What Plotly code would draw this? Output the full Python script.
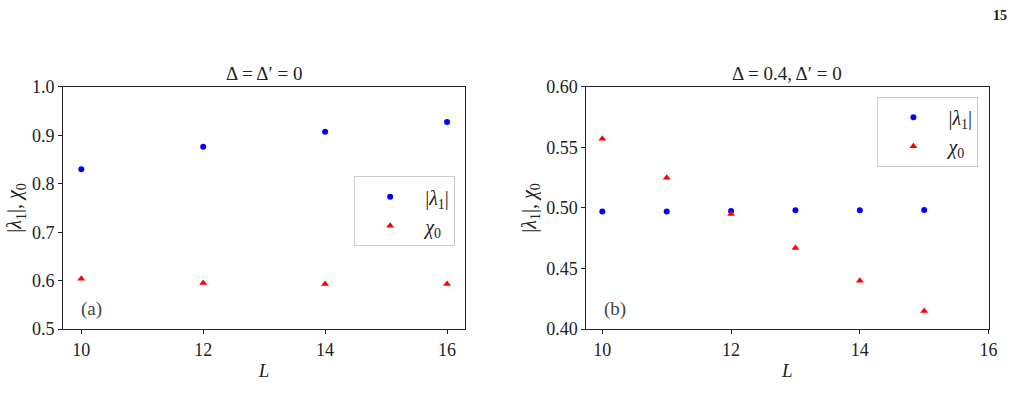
import plotly.graph_objects as go
from plotly.subplots import make_subplots

# Data
L_a = [10, 12, 14, 16]
lam_a = [0.830, 0.876, 0.907, 0.927]
chi_a = [0.604, 0.595, 0.593, 0.593]

L_b = [10, 11, 12, 13, 14, 15]
lam_b = [0.497, 0.497, 0.4975, 0.498, 0.498, 0.4984]
chi_b = [0.557, 0.525, 0.495, 0.467, 0.440, 0.415]

titles = ["Δ = Δ′ = 0", "Δ = 0.4, Δ′ = 0"]
panel_tags = ["(a)", "(b)"]

FONT = "Liberation Serif, serif"
TXT = "#222"
ylab = "|<i>λ</i><sub>1</sub>|, <i>χ</i><sub>0</sub>"
lam_name = "|<i>λ</i><sub>1</sub>|"
chi_name = "<i>χ</i><sub>0</sub>"

fig = make_subplots(rows=1, cols=2)

# panel (a)
fig.add_trace(go.Scatter(x=L_a, y=lam_a, mode="markers", name=lam_name,
                         marker=dict(color="blue", size=6, symbol="circle"),
                         legend="legend"), row=1, col=1)
fig.add_trace(go.Scatter(x=L_a, y=chi_a, mode="markers", name=chi_name,
                         marker=dict(color="red", size=7, symbol="triangle-up"),
                         legend="legend"), row=1, col=1)
# panel (b)
fig.add_trace(go.Scatter(x=L_b, y=lam_b, mode="markers", name=lam_name,
                         marker=dict(color="blue", size=6, symbol="circle"),
                         legend="legend2"), row=1, col=2)
fig.add_trace(go.Scatter(x=L_b, y=chi_b, mode="markers", name=chi_name,
                         marker=dict(color="red", size=7, symbol="triangle-up"),
                         legend="legend2"), row=1, col=2)

axis_style = dict(
    showgrid=False, zeroline=False, showline=True, mirror=True,
    linecolor=TXT, linewidth=1, ticks="outside", ticklen=4,
    tickcolor=TXT, tickfont=dict(family=FONT, size=18, color=TXT),
    automargin=False,
)
fig.update_xaxes(**axis_style)
fig.update_yaxes(**axis_style)

title_font = dict(family=FONT, size=19, color=TXT)
ylab_font = dict(family=FONT, size=20, color=TXT)
legend_style = dict(xanchor="right", yanchor="top",
                    bgcolor="white", bordercolor="#ccc", borderwidth=1,
                    font=dict(family=FONT, size=20, color=TXT),
                    itemwidth=60, tracegroupgap=4)

fig.update_layout(
    xaxis=dict(domain=[0.062, 0.458], range=[9.7, 16.3],
               tickvals=[10, 12, 14, 16],
               title=dict(text="<i>L</i>", font=title_font, standoff=4)),
    yaxis=dict(domain=[0.203, 0.790], range=[0.5, 1.0],
               tickvals=[0.5, 0.6, 0.7, 0.8, 0.9, 1.0], tickformat=".1f",
               title=dict(text=ylab, font=ylab_font, standoff=4)),
    xaxis2=dict(domain=[0.577, 0.973], range=[9.75, 16],
                tickvals=[10, 12, 14, 16],
                title=dict(text="<i>L</i>", font=title_font, standoff=4)),
    yaxis2=dict(domain=[0.203, 0.790], range=[0.40, 0.60],
                tickvals=[0.40, 0.45, 0.50, 0.55, 0.60], tickformat=".2f",
                title=dict(text=ylab, font=ylab_font, standoff=4)),
    legend=dict(x=0.448, y=0.573, **legend_style),
    legend2=dict(x=0.963, y=0.766, **legend_style),
    showlegend=True,
    width=1016, height=413,
    margin=dict(l=0, r=0, t=0, b=0),
    paper_bgcolor="white", plot_bgcolor="white",
)

# panel titles and tags
for i, (t, tag) in enumerate(zip(titles, panel_tags)):
    xd = "x domain" if i == 0 else "x2 domain"
    yd = "y domain" if i == 0 else "y2 domain"
    fig.add_annotation(text=t, xref=xd, yref=yd, x=0.5, y=1.0, yanchor="bottom",
                       yshift=1, showarrow=False, font=title_font)
    fig.add_annotation(text=tag, xref=xd, yref=yd, x=0.04, y=0.03,
                       xanchor="left", yanchor="bottom", showarrow=False,
                       font=dict(family=FONT, size=19, color="#444"))

# page number
fig.add_annotation(text="<b>15</b>", xref="paper", yref="paper", x=0.993, y=0.985,
                   xanchor="right", yanchor="top", showarrow=False,
                   font=dict(family=FONT, size=14, color=TXT))

fig.write_html("out.html", config={"displayModeBar": False},
               post_script="document.body.style.margin='0';")
